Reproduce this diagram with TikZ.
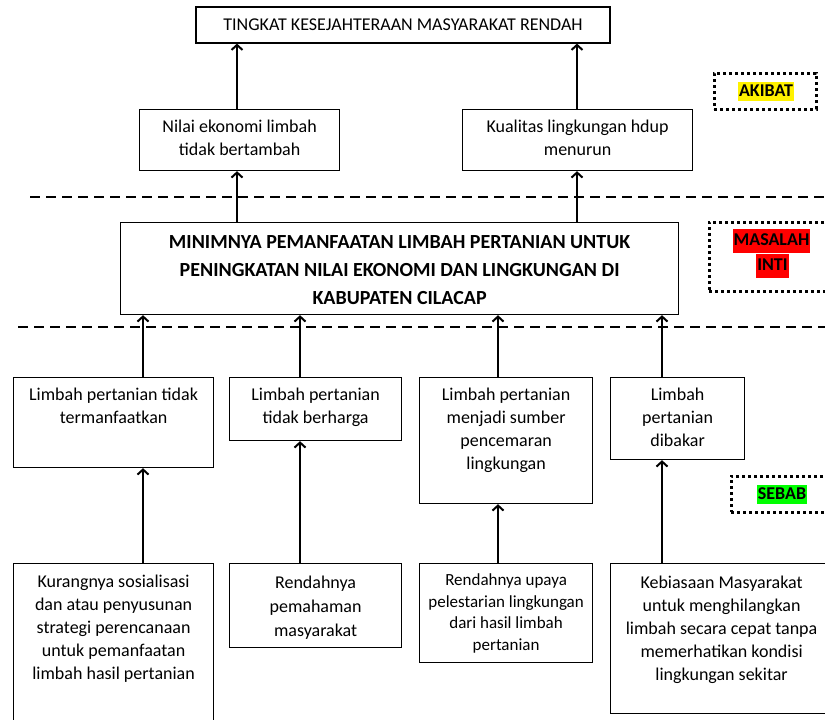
\documentclass[tikz,border=0pt]{standalone}
\usepackage{fontspec}
\setmainfont{Carlito}
\usetikzlibrary{arrows.meta}

\begin{document}
\begin{tikzpicture}[x=1pt, y=-1pt,
    font=\fontsize{18}{23}\selectfont,
    kotak/.style={draw, line width=1.2pt, inner sep=0pt},
    isi/.style n args={3}{kotak, anchor=north west,
      execute at begin node={\begin{minipage}[t][#2][t]{#1}\centering\rule{0pt}{#3}},
      execute at end node={\end{minipage}}},
    panah/.style={-{Straight Barb[length=5pt,width=11pt]}, line width=2pt},
    garis/.style={dash pattern=on 10pt off 6pt, line width=2pt},
    bingkai/.style={draw, line width=3pt, dash pattern=on 3pt off 3pt, inner sep=0pt},
    tanda/.style={fill=#1, font=\bfseries\fontsize{18}{22}\selectfont,
      inner xsep=1pt, inner ysep=0pt, text height=14pt, text depth=5pt}]
  \clip (0,0) rectangle (825,720);

  % akibat
  \node[kotak, minimum width=414pt, minimum height=36pt] (tingkat) at (403,25)
    {TINGKAT KESEJAHTERAAN MASYARAKAT RENDAH};
  \node[isi={200pt}{61pt}{23pt}] (nilai) at (139,109)
    {Nilai ekonomi limbah\\tidak bertambah};
  \node[isi={230pt}{61pt}{23pt}] (kualitas) at (462,109)
    {Kualitas lingkungan hdup\\menurun};

  % masalah inti
  \node[isi={558pt}{92pt}{26pt}, font=\bfseries\fontsize{20}{28}\selectfont] (inti) at (120,222)
    {MINIMNYA PEMANFAATAN LIMBAH PERTANIAN UNTUK\\
     PENINGKATAN NILAI EKONOMI DAN LINGKUNGAN DI\\
     KABUPATEN CILACAP};

  % sebab
  \node[isi={200pt}{90pt}{23pt}] (b1) at (13,377) {Limbah pertanian tidak\\termanfaatkan};
  \node[isi={172pt}{63pt}{23pt}] (b2) at (229,377) {Limbah pertanian\\tidak berharga};
  \node[isi={173pt}{126pt}{23pt}] (b3) at (419,377)
    {Limbah pertanian\\menjadi sumber\\pencemaran\\lingkungan};
  \node[isi={134pt}{82pt}{23pt}] (b4) at (610,377) {Limbah\\pertanian\\dibakar};

  \node[isi={200pt}{180pt}{24pt}] (c1) at (13,563)
    {Kurangnya sosialisasi\\dan atau penyusunan\\strategi perencanaan\\untuk pemanfaatan\\limbah hasil pertanian};
  \node[isi={172pt}{84pt}{25pt}, font=\fontsize{18}{24}\selectfont] (c2) at (229,563)
    {Rendahnya\\pemahaman\\masyarakat};
  \node[isi={173pt}{99pt}{22pt}, font=\fontsize{17}{21.5}\selectfont] (c3) at (419,563)
    {Rendahnya upaya\\pelestarian lingkungan\\dari hasil limbah\\pertanian};
  \node[isi={222pt}{150pt}{25pt}] (c4) at (610,563)
    {Kebiasaan Masyarakat\\untuk menghilangkan\\limbah secara cepat tanpa\\memerhatikan kondisi\\lingkungan sekitar};

  % jalur panah
  \coordinate (ka) at (237,0);
  \coordinate (kb) at (577,0);
  \coordinate (k1) at (143,0);
  \coordinate (k2) at (300,0);
  \coordinate (k3) at (498,0);
  \coordinate (k4) at (662,0);

  \draw[panah] (ka |- nilai.north) -- (ka |- tingkat.south);
  \draw[panah] (kb |- kualitas.north) -- (kb |- tingkat.south);
  \draw[panah] (ka |- inti.north) -- (ka |- nilai.south);
  \draw[panah] (kb |- inti.north) -- (kb |- kualitas.south);

  \draw[panah] (k1 |- b1.north) -- (k1 |- inti.south);
  \draw[panah] (k2 |- b2.north) -- (k2 |- inti.south);
  \draw[panah] (k3 |- b3.north) -- (k3 |- inti.south);
  \draw[panah] (k4 |- b4.north) -- (k4 |- inti.south);

  \draw[panah] (k1 |- c1.north) -- (k1 |- b1.south);
  \draw[panah] (k2 |- c2.north) -- (k2 |- b2.south);
  \draw[panah] (k3 |- c3.north) -- (k3 |- b3.south);
  \draw[panah] (k4 |- c4.north) -- (k4 |- b4.south);

  % garis batas
  \draw[garis] (30,197) -- (830,197);
  \draw[garis] (18,327) -- (830,327);

  % keterangan
  \node[bingkai, minimum width=102pt, minimum height=36pt] (fakibat) at (765,91) {};
  \node[tanda=yellow] (akibat) at (766,91.5) {AKIBAT};
  \node[bingkai, minimum width=131pt, minimum height=69pt] (fmasalah) at (774.5,256.5) {};
  \node[tanda=red, inner ysep=2.5pt] (masalah) at (771.5,241) {MASALAH};
  \node[tanda=red, inner ysep=2.5pt] (intilabel) at (772.5,266) {INTI};
  \node[bingkai, minimum width=109pt, minimum height=36pt] (fsebab) at (785.5,494) {};
  \node[tanda=green] (sebab) at (782,494.5) {SEBAB};
\end{tikzpicture}
\end{document}
